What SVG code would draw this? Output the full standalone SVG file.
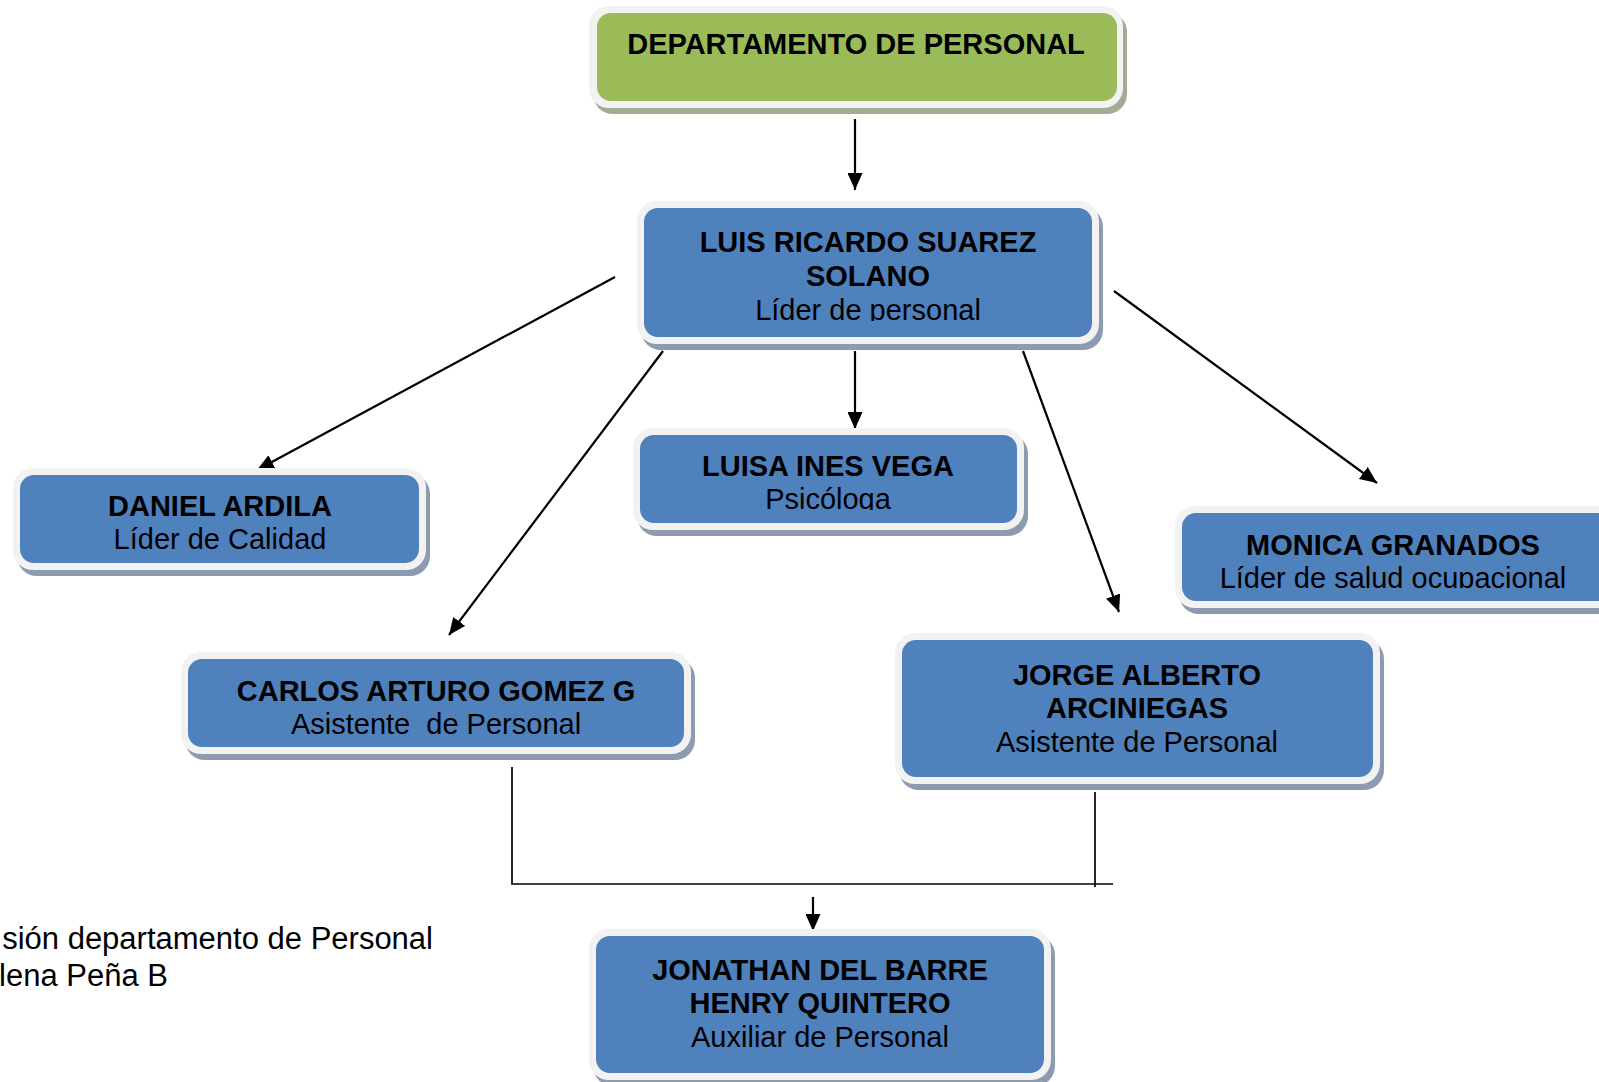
<svg xmlns="http://www.w3.org/2000/svg" width="1599" height="1082" viewBox="0 0 1599 1082">
  <style>
    .shadow { fill: #8d9bb1; }
    .shadow-g { fill: #a2ab93; }
    .rim { fill: #f2f2f2; }
    .box { fill: #4f81bd; }
    .box-g { fill: #9bbb59; }
    .name { font-family: "Liberation Sans", Arial, sans-serif; font-weight: bold; font-size: 29px; fill: #000; text-anchor: middle; }
    .role { font-family: "Liberation Sans", Arial, sans-serif; font-size: 29px; fill: #000; text-anchor: middle; }
    .note { font-family: "Liberation Sans", Arial, sans-serif; font-size: 31px; fill: #000; text-anchor: end; }
    .link { stroke: #000; stroke-width: 2.2; fill: none; }
    .join { stroke: #000; stroke-width: 1.7; fill: none; }
  </style>
  <defs>
    <marker id="arrow" markerUnits="userSpaceOnUse" markerWidth="17" markerHeight="15" viewBox="0 0 17 15" refX="17" refY="7.5" orient="auto">
      <path d="M0,0 L17,7.5 L0,15 Z" fill="#000"/>
    </marker>
    <!-- second-line captions are cut just under the baseline -->
    <clipPath id="clip-luis"><rect x="644" y="290" width="448" height="31"/></clipPath>
    <clipPath id="clip-luisa"><rect x="640" y="478" width="377" height="32"/></clipPath>
    <clipPath id="clip-monica"><rect x="1182" y="556" width="430" height="32"/></clipPath>
    <clipPath id="clip-carlos"><rect x="188" y="704" width="496" height="31"/></clipPath>
  </defs>

  <!-- page note -->
  <g id="note">
    <text class="note" x="433" y="949">sión departamento de Personal</text>
    <text class="note" x="168" y="986">lena Peña B</text>
  </g>

  <g id="connectors">
    <line class="link" x1="855" y1="119" x2="855" y2="190" marker-end="url(#arrow)"/>
    <line class="link" x1="615" y1="277" x2="257" y2="470" marker-end="url(#arrow)"/>
    <line class="link" x1="663" y1="351" x2="449" y2="635" marker-end="url(#arrow)"/>
    <line class="link" x1="855" y1="351" x2="855" y2="429" marker-end="url(#arrow)"/>
    <line class="link" x1="1023" y1="351" x2="1119" y2="612" marker-end="url(#arrow)"/>
    <line class="link" x1="1114" y1="291" x2="1377" y2="483" marker-end="url(#arrow)"/>
    <polyline class="join" points="512,767 512,884 1113,884"/>
    <line class="join" x1="1095" y1="792" x2="1095" y2="887"/>
    <line class="link" x1="813" y1="897" x2="813" y2="931" marker-end="url(#arrow)"/>
  </g>

  <g id="departamento">
    <rect class="shadow-g" x="593" y="12" width="534" height="102" rx="20"/>
    <rect class="rim" x="589" y="6" width="534" height="102" rx="20"/>
    <rect class="box-g" x="597" y="13" width="520" height="88" rx="14"/>
    <text class="name" x="856" y="54">DEPARTAMENTO DE PERSONAL</text>
  </g>

  <g id="luis">
    <rect class="shadow" x="641" y="207" width="462" height="143" rx="20"/>
    <rect class="rim" x="637" y="201" width="462" height="143" rx="20"/>
    <rect class="box" x="644" y="208" width="448" height="129" rx="14"/>
    <text class="name" x="868" y="252">LUIS RICARDO SUAREZ</text>
    <text class="name" x="868" y="286">SOLANO</text>
    <text class="role" x="868" y="320" clip-path="url(#clip-luis)">Líder de personal</text>
  </g>

  <g id="luisa">
    <rect class="shadow" x="637" y="434" width="391" height="102" rx="20"/>
    <rect class="rim" x="633" y="428" width="391" height="102" rx="20"/>
    <rect class="box" x="640" y="435" width="377" height="88" rx="14"/>
    <text class="name" x="828" y="476">LUISA INES VEGA</text>
    <text class="role" x="828" y="509" clip-path="url(#clip-luisa)">Psicóloga</text>
  </g>

  <g id="daniel">
    <rect class="shadow" x="17" y="474" width="413" height="102" rx="20"/>
    <rect class="rim" x="13" y="468" width="413" height="102" rx="20"/>
    <rect class="box" x="20" y="475" width="399" height="88" rx="14"/>
    <text class="name" x="220" y="516">DANIEL ARDILA</text>
    <text class="role" x="220" y="549">Líder de Calidad</text>
  </g>

  <g id="monica">
    <rect class="shadow" x="1179" y="512" width="444" height="102" rx="20"/>
    <rect class="rim" x="1175" y="506" width="444" height="102" rx="20"/>
    <rect class="box" x="1182" y="513" width="430" height="88" rx="14"/>
    <text class="name" x="1393" y="555">MONICA GRANADOS</text>
    <text class="role" x="1393" y="588" clip-path="url(#clip-monica)">Líder de salud ocupacional</text>
  </g>

  <g id="carlos">
    <rect class="shadow" x="185" y="658" width="510" height="102" rx="20"/>
    <rect class="rim" x="181" y="652" width="510" height="102" rx="20"/>
    <rect class="box" x="188" y="659" width="496" height="88" rx="14"/>
    <text class="name" x="436" y="701">CARLOS ARTURO GOMEZ G</text>
    <text class="role" x="436" y="734" clip-path="url(#clip-carlos)" xml:space="preserve">Asistente  de Personal</text>
  </g>

  <g id="jorge">
    <rect class="shadow" x="899" y="639" width="485" height="151" rx="20"/>
    <rect class="rim" x="895" y="633" width="485" height="151" rx="20"/>
    <rect class="box" x="902" y="640" width="471" height="137" rx="14"/>
    <text class="name" x="1137" y="685">JORGE ALBERTO</text>
    <text class="name" x="1137" y="718">ARCINIEGAS</text>
    <text class="role" x="1137" y="752">Asistente de Personal</text>
  </g>

  <g id="jonathan">
    <rect class="shadow" x="593" y="935" width="462" height="151" rx="20"/>
    <rect class="rim" x="589" y="929" width="462" height="151" rx="20"/>
    <rect class="box" x="596" y="936" width="448" height="137" rx="14"/>
    <text class="name" x="820" y="980">JONATHAN DEL BARRE</text>
    <text class="name" x="820" y="1013">HENRY QUINTERO</text>
    <text class="role" x="820" y="1047">Auxiliar de Personal</text>
  </g>
</svg>
